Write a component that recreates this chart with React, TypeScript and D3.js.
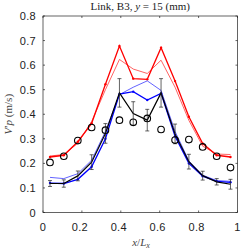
import * as d3 from "d3"

// x/Lx stations
const xs = [0.036, 0.107, 0.179, 0.25, 0.321, 0.393, 0.464, 0.536, 0.607, 0.679, 0.75, 0.821, 0.893, 0.964]

// experiment (circles)
const expt = [0.204, 0.229, 0.293, 0.346, 0.335, 0.376, 0.367, 0.383, 0.338, 0.295, 0.297, 0.267, 0.229, 0.183]

// black line with error bars
const blackVals = [0.118, 0.118, 0.149, 0.205, 0.322, 0.487, 0.403, 0.376, 0.487, 0.32, 0.207, 0.15, 0.125, 0.115]
const blackErr = [0.012, 0.015, 0.02, 0.03, 0.04, 0.058, 0.048, 0.044, 0.058, 0.04, 0.03, 0.018, 0.013, 0.02]

const blueThick = [0.12, 0.118, 0.135, 0.186, 0.3, 0.482, 0.492, 0.458, 0.485, 0.31, 0.2, 0.148, 0.127, 0.123]
const blueThin = [0.143, 0.138, 0.158, 0.213, 0.33, 0.48, 0.51, 0.536, 0.497, 0.33, 0.21, 0.152, 0.13, 0.127]

const redThick = [0.226, 0.233, 0.288, 0.363, 0.522, 0.678, 0.545, 0.542, 0.671, 0.535, 0.39, 0.281, 0.233, 0.226]
const redThin = [0.23, 0.236, 0.282, 0.37, 0.5, 0.623, 0.584, 0.566, 0.62, 0.51, 0.375, 0.27, 0.238, 0.236]

const xTicks = [0, 0.2, 0.4, 0.6, 0.8, 1]
const yTicks = [0, 0.1, 0.2, 0.3, 0.4, 0.5, 0.6, 0.7, 0.8]

export default function App() {
  const W = 243
  const H = 249
  const left = 43
  const right = 237.5
  const top = 16
  const bottom = 212.5

  const x = d3.scaleLinear().domain([0, 1]).range([left, right])
  const y = d3.scaleLinear().domain([0, 0.8]).range([bottom, top])

  const line = d3
    .line<number>()
    .x((_, i) => x(xs[i]))
    .y((d) => y(d))

  const tickFont = "'Liberation Sans', Arial, sans-serif"
  const serif = "'Liberation Serif', 'Times New Roman', serif"

  return (
    <svg width={W} height={H} style={{ position: "absolute", left: 0, top: 0, background: "#fff" }}>
      <rect x={0} y={0} width={W} height={H} fill="#fff" />

      {/* title */}
      <text x={(left + right) / 2} y={10} textAnchor="middle" fontFamily={serif} fontSize={11} fill="#222">
        Link, B3, <tspan fontStyle="italic">y</tspan> = 15 (mm)
      </text>

      {/* model curves */}
      <path d={line(redThin) || ""} fill="none" stroke="#ff2020" strokeWidth={0.7} />
      <path d={line(redThick) || ""} fill="none" stroke="#ff0000" strokeWidth={1.3} />
      {redThick.map((v, i) => (
        <circle key={"rd" + i} cx={x(xs[i])} cy={y(v)} r={1.2} fill="#ff0000" />
      ))}
      <path d={line(blueThin) || ""} fill="none" stroke="#2020ff" strokeWidth={0.7} />
      <path d={line(blueThick) || ""} fill="none" stroke="#0000ff" strokeWidth={1.3} />
      {blueThick.map((v, i) => (
        <circle key={"bd" + i} cx={x(xs[i])} cy={y(v)} r={1.2} fill="#0000ff" />
      ))}
      <path d={line(blackVals) || ""} fill="none" stroke="#000" strokeWidth={1.2} />

      {/* error bars */}
      {blackVals.map((v, i) => {
        const cx = x(xs[i])
        const y1 = y(v - blackErr[i])
        const y2 = y(v + blackErr[i])
        return (
          <g key={"eb" + i} stroke="#222" strokeWidth={0.7}>
            <line x1={cx} x2={cx} y1={y1} y2={y2} />
            <line x1={cx - 2} x2={cx + 2} y1={y1} y2={y1} />
            <line x1={cx - 2} x2={cx + 2} y1={y2} y2={y2} />
          </g>
        )
      })}

      {/* experiment */}
      {expt.map((v, i) => (
        <circle key={"ex" + i} cx={x(xs[i])} cy={y(v)} r={3.3} fill="none" stroke="#000" strokeWidth={1.1} />
      ))}

      {/* axes box */}
      <rect x={left} y={top} width={right - left} height={bottom - top} fill="none" stroke="#222" strokeWidth={0.7} />
      {xTicks.map((t) => (
        <g key={"xt" + t}>
          <line x1={x(t)} x2={x(t)} y1={bottom} y2={bottom - 2} stroke="#222" strokeWidth={0.7} />
          <line x1={x(t)} x2={x(t)} y1={top} y2={top + 2} stroke="#222" strokeWidth={0.7} />
          <text
            x={x(t) + (t === 0 || t === 1 ? 0 : -2)}
            y={bottom + 18}
            textAnchor="middle"
            fontFamily={tickFont}
            fontSize={11}
            letterSpacing={0.3}
            fill="#222"
          >
            {t === 0 || t === 1 ? String(t) : t.toFixed(1)}
          </text>
        </g>
      ))}
      {yTicks.map((t) => (
        <g key={"yt" + t}>
          <line x1={left} x2={left + 2} y1={y(t)} y2={y(t)} stroke="#222" strokeWidth={0.7} />
          <line x1={right} x2={right - 2} y1={y(t)} y2={y(t)} stroke="#222" strokeWidth={0.7} />
          <text
            x={left - 7}
            y={y(t) + 4}
            textAnchor="end"
            fontFamily={tickFont}
            fontSize={11}
            letterSpacing={0.3}
            fill="#222"
          >
            {t === 0 ? "0" : t.toFixed(1)}
          </text>
        </g>
      ))}

      {/* axis labels */}
      <text x={141} y={246} textAnchor="middle" fontFamily={serif} fontSize={11} fill="#444">
        <tspan fontStyle="italic">x</tspan>/<tspan fontStyle="italic">L</tspan>
        <tspan fontStyle="italic" fontSize={8} dy={2}>x</tspan>
      </text>
      <text
        transform={`translate(12,${(top + bottom) / 2}) rotate(-90)`}
        textAnchor="middle"
        fontFamily={serif}
        fontSize={11}
        fill="#444"
      >
        <tspan fontStyle="italic">V</tspan>′<tspan fontStyle="italic">p</tspan> (m/s)
      </text>
    </svg>
  )
}
